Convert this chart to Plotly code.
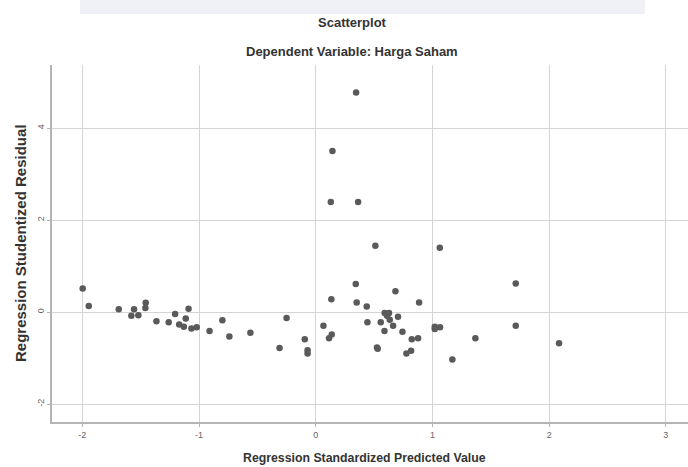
import plotly.graph_objects as go

# Regression Standardized Predicted Value (x) vs Regression Studentized Residual (y)
pred_value = [
    -1.997, -1.945, -1.688, -1.557, -1.58, -1.52, -1.457, -1.46, -1.365, -1.26,
    -1.205, -1.17, -1.114, -1.09, -1.13, -1.065, -1.02, -0.91, -0.80, -0.74,
    -0.56, -0.31, -0.25, -0.094, -0.07, -0.07, 0.066, 0.134, 0.114, 0.137,
    0.343, 0.351, 0.437, 0.683, 0.886, 0.591, 0.628, 0.611, 0.705, 0.443,
    0.557, 0.634, 0.663, 0.589, 0.743, 0.823, 0.877, 0.525, 0.531, 0.777,
    0.817, 1.02, 1.02, 1.065, 1.368, 1.171, 1.714, 1.714, 2.085, 0.346,
    0.143, 0.129, 0.363, 0.511, 1.063,
]
stud_resid = [
    0.51, 0.13, 0.06, 0.06, -0.08, -0.07, 0.20, 0.09, -0.20, -0.22,
    -0.04, -0.27, -0.14, 0.07, -0.32, -0.36, -0.33, -0.41, -0.18, -0.53,
    -0.45, -0.78, -0.13, -0.59, -0.83, -0.90, -0.30, 0.28, -0.57, -0.49,
    0.61, 0.21, 0.12, 0.45, 0.21, -0.02, -0.02, -0.08, -0.10, -0.22,
    -0.22, -0.17, -0.30, -0.41, -0.43, -0.59, -0.57, -0.77, -0.80, -0.90,
    -0.84, -0.32, -0.37, -0.33, -0.57, -1.03, 0.62, -0.30, -0.68, 4.77,
    3.50, 2.39, 2.39, 1.44, 1.40,
]
x_ticks = [-2, -1, 0, 1, 2, 3]
y_ticks = [-2, 0, 2, 4]

title_main = "Scatterplot"
title_sub = "Dependent Variable: Harga Saham"
x_title = "Regression Standardized Predicted Value"
y_title = "Regression Studentized Residual"

FONT = "Liberation Sans, Arial, sans-serif"

fig = go.Figure()
fig.add_trace(go.Scatter(
    x=pred_value, y=stud_resid, mode="markers",
    marker=dict(size=6.5, color="#5a5a5a", line=dict(width=0)),
    hoverinfo="x+y", showlegend=False,
))

L, R, T, B = 52, 0, 65, 45
W, H = 688, 467
pw, ph = W - L - R, H - T - B

def px_x(px):
    return (px - L) / pw

def px_y(py):
    return (H - B - py) / ph

grid_col = "#d4d4d4"
axis_col = "#b4b4b4"

def note(text, x, y, size, angle=0):
    return dict(text=f"<b>{text}</b>", xref="paper", yref="paper",
                x=px_x(x), y=px_y(y), xanchor="center", yanchor="middle",
                showarrow=False, textangle=angle,
                font=dict(size=size, color="#333333"))

fig.update_layout(
    width=W, height=H,
    margin=dict(l=L, r=R, t=T, b=B),
    paper_bgcolor="white", plot_bgcolor="white",
    font=dict(family=FONT, color="#333333"),
    xaxis=dict(
        range=[-2.26, 3.19], tickvals=x_ticks, ticktext=[str(v) for v in x_ticks],
        showgrid=True, gridcolor=grid_col, gridwidth=1,
        zeroline=True, zerolinecolor=grid_col, zerolinewidth=1,
        showline=True, linecolor=axis_col, linewidth=1.5,
        ticks="outside", ticklen=3, tickcolor=axis_col,
        tickfont=dict(size=9, color="#666666"),
    ),
    yaxis=dict(
        range=[-2.39, 5.37], tickvals=y_ticks, ticktext=[str(v) for v in y_ticks],
        showgrid=True, gridcolor=grid_col, gridwidth=1,
        zeroline=True, zerolinecolor=grid_col, zerolinewidth=1,
        showline=True, linecolor=axis_col, linewidth=1.5,
        ticks="outside", ticklen=3, tickcolor=axis_col,
        tickfont=dict(size=9, color="#666666"), tickangle=-90,
    ),
    shapes=[dict(
        type="rect", xref="paper", yref="paper",
        x0=px_x(80), x1=px_x(645), y0=px_y(14), y1=px_y(0),
        fillcolor="#eff1f7", line=dict(width=0), layer="below",
    )],
    annotations=[
        note(title_main, 352, 23, 13),
        note(title_sub, 352, 52, 13),
        note(x_title, 364, 458, 12.3),
        note(y_title, 20, 243, 15, angle=-90),
    ],
)

fig.write_html("out.html",
               config={"displayModeBar": False},
               post_script="document.body.style.margin='0';document.body.style.overflow='hidden';")
